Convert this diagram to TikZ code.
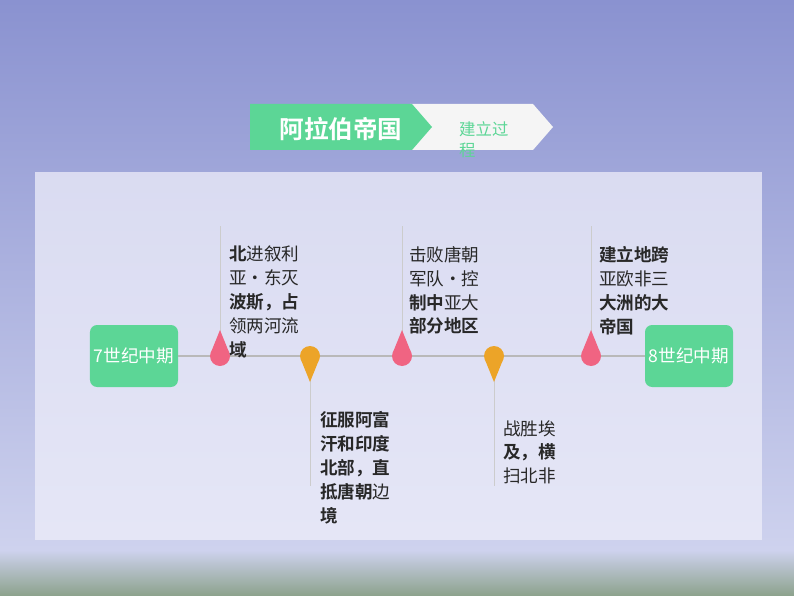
\documentclass[tikz,border=0pt]{standalone}
\usepackage{fontspec}
\setmainfont{Noto Sans CJK SC}[BoldFont={Noto Sans CJK SC Bold}]
\usetikzlibrary{positioning,shapes.symbols}
\definecolor{bgtop}{RGB}{138,146,208}
\definecolor{bgbot}{RGB}{206,210,238}
\definecolor{gnd}{RGB}{140,162,140}
\definecolor{panel}{RGB}{238,238,250}
\definecolor{mint}{RGB}{92,214,150}
\definecolor{pinkdot}{RGB}{240,100,130}
\definecolor{orangedot}{RGB}{236,164,40}
\definecolor{txt}{RGB}{40,40,40}
\tikzset{
  endbox/.style={rounded corners=6pt, fill=mint, text=white, minimum width=2.64cm,
    minimum height=1.86cm, font=\fontsize{15}{15}\selectfont, inner sep=0pt},
  stepnote/.style={anchor=north west, align=left, text=txt, inner sep=0pt,
    font=\fontsize{15}{20.4}\selectfont},
  tick/.style={draw=gray!40, line width=0.5pt}
}
\begin{document}
\begin{tikzpicture}[x=0.03cm, y=-0.03cm]
  \useasboundingbox (0,0) rectangle (794,596);
  % background
  \shade[top color=bgtop, bottom color=bgbot] (0,0) rectangle (794,550);
  \shade[top color=bgbot, bottom color=gnd] (0,550) rectangle (794,596);
  \fill[panel, opacity=0.75] (35,172) rectangle (762,540);

  % title banner
  \fill[gray!8] (410,104) -- (533,104) -- (553,127) -- (533,150) -- (410,150) -- (430,127) -- cycle;
  \fill[mint] (250,104) -- (412,104) -- (432,127) -- (412,150) -- (250,150) -- cycle;
  \node[text=white, font=\bfseries\fontsize{21}{21}\selectfont] (title) at (341,129) {阿拉伯帝国};
  \node[text=mint, align=left, anchor=north west, inner sep=0pt,
    font=\fontsize{14}{18}\selectfont] (sub) at (459,121) {建立过\\程};

  % timeline
  \node[endbox] (start) at (134,356) {7世纪中期};
  \node[endbox] (finish) at (689,356) {8世纪中期};
  \draw[gray!55, line width=2.5pt] (start.east) -- (finish.west);

  % markers
  \foreach \x/\c/\d [count=\i] in {220/pinkdot/-1, 310/orangedot/1, 402/pinkdot/-1,
                                    494/orangedot/1, 591/pinkdot/-1}{
    \coordinate (m\i) at (\x,356);
    \coordinate (e\i) at (\x,{356+\d*130});
    \draw[tick] (m\i) -- (e\i);
    \fill[\c] (m\i) circle (10);
    \fill[\c] (\x-8.5,{356+\d*5}) -- (\x,{356+\d*26}) -- (\x+8.5,{356+\d*5}) -- cycle;
  }

  % notes
  \node[stepnote] (n1) at (229,246) {\textbf{北}进叙利\\亚·东灭\\\textbf{波斯，占}\\领两河流\\\textbf{域}};
  \node[stepnote] (n2) at (320,411) {\textbf{征服阿富}\\\textbf{汗和印度}\\\textbf{北部，直}\\\textbf{抵唐朝}边\\\textbf{境}};
  \node[stepnote] (n3) at (409,246) {击败唐朝\\军队·控\\\textbf{制中}亚大\\\textbf{部分地区}};
  \node[stepnote] (n4) at (503,420) {战胜埃\\\textbf{及，横}\\扫北非};
  \node[stepnote] (n5) at (599,246) {\textbf{建立地跨}\\亚欧非三\\\textbf{大洲的大}\\\textbf{帝国}};
\end{tikzpicture}
\end{document}
